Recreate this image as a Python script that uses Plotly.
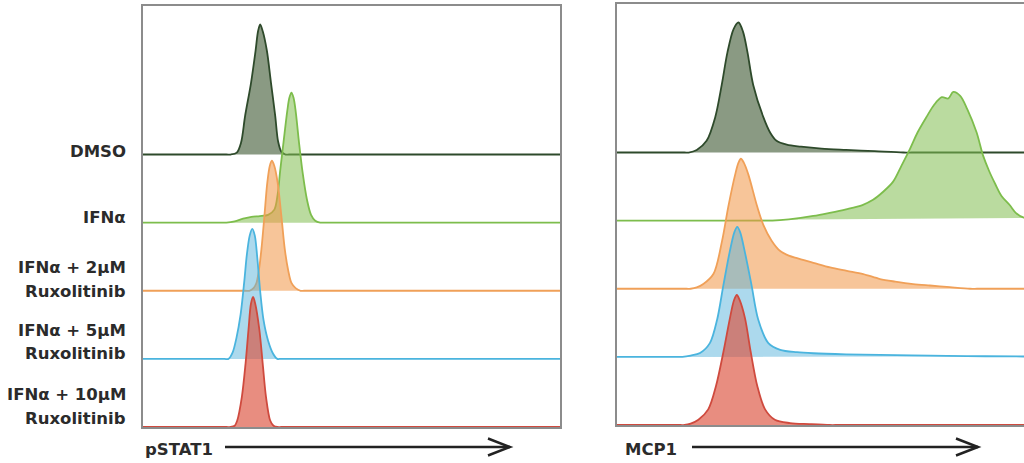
import plotly.graph_objects as go

# ---- data: intensity (0-100 display units) and % of max ----
samples = ["DMSO", "IFNα", "IFNα + 2µM Ruxolitinib", "IFNα + 5µM Ruxolitinib", "IFNα + 10µM Ruxolitinib"]
label_lines = [["DMSO"], ["IFNα"], ["IFNα + 2µM", "Ruxolitinib"], ["IFNα + 5µM", "Ruxolitinib"], ["IFNα + 10µM", "Ruxolitinib"]]

# pSTAT1 panel
pstat_dmso_x = [0, 1, 2, 20, 21, 22.5, 23.5, 24.5, 25.9, 27.0, 27.6, 28.1, 28.7, 29.7, 30.7, 31.7, 32.4, 33.2, 34.2, 35, 36, 98, 99, 100]
pstat_dmso_y = [0, 0, 0, 0, 0, 1.5, 9, 30, 55, 80, 95, 100, 95, 80, 55, 30, 10, 2, 0, 0, 0, 0, 0, 0]
pstat_ifn_x = [0, 1, 2, 19, 20, 22, 24, 26, 28, 30, 31.5, 32.3, 32.9, 33.7, 34.6, 35.1, 35.6, 36.1, 36.6, 37.4, 38.3, 39.3, 40.3, 41.3, 42.5, 43.3, 44.3, 98, 99, 100]
pstat_ifn_y = [0, 0, 0, 0, 0, 1, 3, 4.5, 5, 6, 10, 22, 40, 62, 86, 96, 100, 96, 86, 62, 38, 18, 6, 1.5, 0, 0, 0, 0, 0, 0]
pstat_2um_x = [0, 1, 2, 24.5, 25.5, 26.5, 27.2, 27.8, 28.4, 29.1, 29.8, 30.4, 30.9, 31.5, 32.3, 33.2, 34.0, 34.8, 35.6, 36.6, 37.8, 38.6, 39.6, 98, 99, 100]
pstat_2um_y = [0, 0, 0, 0, 0, 2, 6, 16, 32, 57, 83, 96, 100, 96, 83, 57, 32, 16, 6, 2, 0, 0, 0, 0, 0, 0]
pstat_5um_x = [0, 1, 2, 19.5, 20.5, 21.5, 22.4, 23.4, 24.3, 24.9, 25.6, 26.2, 26.8, 27.4, 28.1, 28.9, 30.0, 31.2, 32.2, 33, 34, 98, 99, 100]
pstat_5um_y = [0, 0, 0, 0, 0, 5, 16, 34, 60, 80, 95, 100, 95, 78, 52, 30, 14, 4, 0, 0, 0, 0, 0, 0]
pstat_10um_x = [0, 1, 2, 20, 21.0, 22.0, 22.6, 23.7, 24.6, 25.3, 25.9, 26.4, 26.9, 27.9, 28.7, 29.5, 30.5, 31.3, 32.3, 33.1, 34.1, 98, 99, 100]
pstat_10um_y = [0, 0, 0, 0, 0, 1, 5, 23, 49, 75, 95, 100, 95, 75, 49, 23, 5, 1, 0, 0, 0, 0, 0, 0]

# MCP1 panel
mcp_dmso_x = [0, 1, 2, 16.5, 17.5, 19.5, 21.9, 24.0, 25.6, 27.0, 28.5, 29.7, 30.8, 31.9, 33.3, 35.8, 37.5, 39.0, 41.5, 45, 50, 56, 63, 70, 72, 74, 98, 99, 100]
mcp_dmso_y = [0, 0, 0, 0, 0, 2, 9, 27, 52, 77, 95, 100, 93, 77, 52, 27, 15, 9, 6, 4.5, 3, 2, 1, 0, 0, 0, 0, 0, 0]
mcp_ifn_x = [0, 1, 2, 36, 38, 42, 48, 52, 56, 60, 62.6, 65, 67.5, 69.5, 71.6, 73.5, 75.7, 77.5, 79.4, 81, 82.2, 83.9, 85.6, 87.9, 89.5, 91, 92.5, 94, 96, 97.5, 99.3, 100]
mcp_ifn_y = [0, 0, 0, 0, 0, 1, 3.6, 6, 8.7, 12, 16, 22, 30, 42, 55, 68, 80, 89, 95, 94, 99, 96, 86, 68, 50, 38, 28, 19, 12, 6, 2.5, 2]
mcp_2um_x = [0, 1, 2, 17, 18, 19.5, 21.1, 23.6, 25.7, 27.2, 28.9, 29.7, 30.3, 31.0, 32.1, 34.3, 35.8, 37.8, 39.9, 42, 44, 48, 52.1, 56.2, 60.2, 64.3, 68, 72.4, 76.5, 80.6, 86.3, 88, 90, 98, 99, 100]
mcp_2um_y = [0, 0, 0, 0, 0, 1, 3.6, 11.5, 37, 63, 88, 97, 100, 97, 88, 63, 49, 37, 29, 25.5, 23.5, 20, 16.4, 13.8, 11.3, 7.5, 5.5, 3.6, 2.5, 1.5, 0, 0, 0, 0, 0, 0]
mcp_5um_x = [0, 1, 2, 15, 16, 18, 20.3, 22.7, 24.5, 26.0, 27.5, 28.7, 29.4, 30.1, 31.3, 32.9, 34.5, 37.0, 39.9, 44, 48, 56, 64.3, 72, 80.6, 90, 100]
mcp_5um_y = [0, 0, 0, 0, 0, 1, 3, 10.6, 29, 55, 80, 96, 100, 96, 80, 55, 29, 10.6, 5.4, 3.6, 2.8, 2, 1.5, 1.1, 0.8, 0.5, 0.3]
mcp_10um_x = [0, 1, 2, 15.5, 16.5, 18, 19.9, 22.3, 24.2, 26.0, 27.6, 28.6, 29.3, 30.0, 31.3, 32.7, 34.3, 36.2, 38.6, 42.3, 47, 52, 54, 56, 98, 99, 100]
mcp_10um_y = [0, 0, 0, 0, 0, 1, 4, 12, 30, 56, 82, 96, 100, 96, 82, 56, 30, 12, 4, 1.5, 0.7, 0, 0, 0, 0, 0, 0]

pstat_x = [pstat_dmso_x, pstat_ifn_x, pstat_2um_x, pstat_5um_x, pstat_10um_x]
pstat_y = [pstat_dmso_y, pstat_ifn_y, pstat_2um_y, pstat_5um_y, pstat_10um_y]
mcp_x = [mcp_dmso_x, mcp_ifn_x, mcp_2um_x, mcp_5um_x, mcp_10um_x]
mcp_y = [mcp_dmso_y, mcp_ifn_y, mcp_2um_y, mcp_5um_y, mcp_10um_y]

axis_titles = ["pSTAT1", "MCP1"]

# ---- styling ----
line_colors = ["#2e4a2b", "#7dbd4c", "#f0a058", "#4ab4de", "#cf4a3e"]
fill_colors = ["rgba(75,100,65,0.65)", "rgba(130,190,80,0.55)", "rgba(240,150,70,0.55)",
               "rgba(90,180,220,0.5)", "rgba(220,80,60,0.65)"]
W, H = 1024, 463
PX_PER_UNIT = 1.3          # pixels per % of max
SPACING = 52.4             # vertical offset between rows (in % units)
n = len(samples)

fig = go.Figure()

def add_panel(xs, ys, xa, ya):
    for i in range(n):
        off = (n - 1 - i) * SPACING
        fig.add_trace(go.Scatter(
            x=xs[i], y=[off + v for v in ys[i]], xaxis=xa, yaxis=ya,
            mode="lines", line=dict(color=line_colors[i], width=1.8, shape="spline", smoothing=0.9),
            fill="toself", fillcolor=fill_colors[i], hoverinfo="skip", showlegend=False))

add_panel(pstat_x, pstat_y, "x", "y")
add_panel(mcp_x, mcp_y, "x2", "y2")

def py(p):  # pixel row -> paper y
    return 1 - p / H

def px(p):
    return p / W

yrange = [0, 421 / PX_PER_UNIT]
common = dict(showgrid=False, zeroline=False, showticklabels=False, ticks="",
              showline=True, linecolor="#8c8c8c", linewidth=1.5)
fig.update_layout(
    width=W, height=H, margin=dict(l=0, r=0, t=0, b=0),
    paper_bgcolor="white", plot_bgcolor="white",
    xaxis=dict(domain=[px(143), px(560)], range=[0, 100], mirror=True, **common),
    yaxis=dict(domain=[py(427), py(6)], range=yrange, mirror=True, **common),
    xaxis2=dict(domain=[px(617), 1.0], range=[0, 99.5], mirror=True, anchor="y2", **common),
    yaxis2=dict(domain=[py(425), py(4)], range=yrange, mirror=False, anchor="x2", **common),
)

# row labels
font = dict(family="DejaVu Sans", size=16.5, color="#2b2b2b")
label_rows = [[152], [217], [267.5, 291], [330, 353], [394, 418]]
for lines, rows in zip(label_lines, label_rows):
    for t, r in zip(lines, rows):
        fig.add_annotation(text="<b>" + t + "</b>", x=px(128), y=py(r), xref="paper", yref="paper",
                           xanchor="right", yanchor="middle", showarrow=False, font=font)

# axis titles with arrows
for title, tx, a0, a1 in [(axis_titles[0], 143, 225, 510), (axis_titles[1], 623, 692, 978)]:
    fig.add_annotation(text="<b>" + title + "</b>", x=px(tx), y=py(449), xref="paper", yref="paper",
                       xanchor="left", yanchor="middle", showarrow=False, font=font)
    ay = py(447)
    fig.add_shape(type="line", xref="paper", yref="paper", x0=px(a0), x1=px(a1), y0=ay, y1=ay,
                  line=dict(color="#222222", width=2.5))
    fig.add_shape(type="path", xref="paper", yref="paper",
                  path=f"M {px(a1-22)} {py(438.5)} L {px(a1)} {ay} L {px(a1-22)} {py(455.5)}",
                  line=dict(color="#222222", width=2.5))

fig.write_html("out.html")
